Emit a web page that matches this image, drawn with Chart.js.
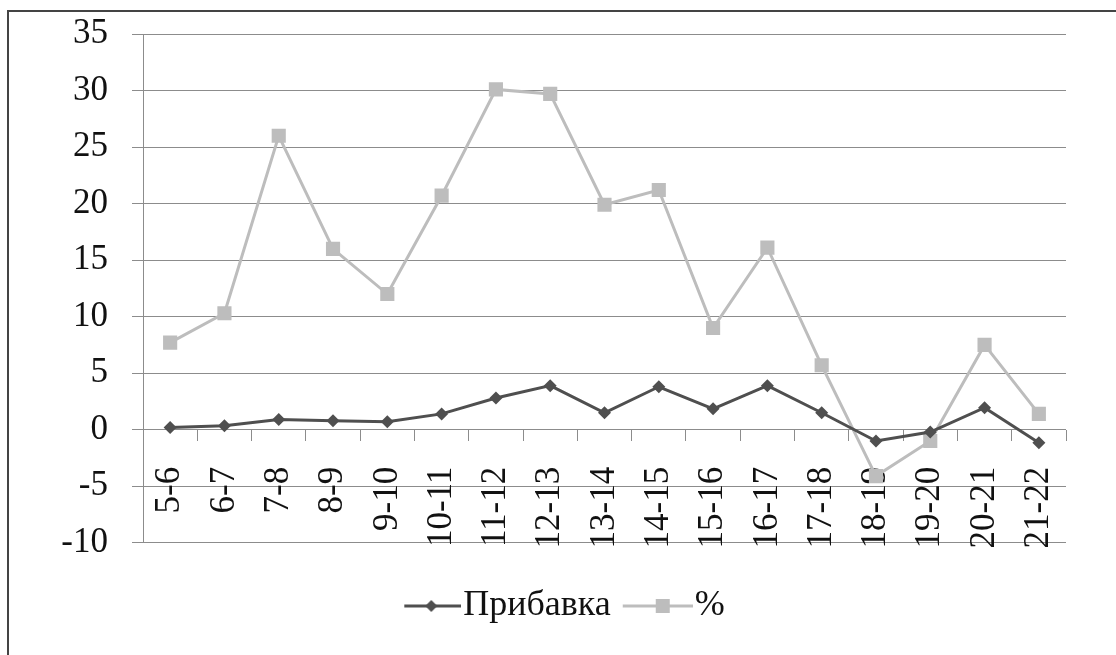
<!DOCTYPE html>
<html>
<head>
<meta charset="utf-8">
<script src="https://cdn.jsdelivr.net/npm/chart.js@4/dist/chart.umd.min.js"></script>
<style>
  body { margin: 0; background: #fff; }
  #marco { position: absolute; left: 7px; top: 10px; width: 1130px; height: 670px; border: 2px solid #444; box-sizing: border-box; }
  #lienzo { position: absolute; left: 0; top: 0; }
</style>
</head>
<body>
<div id="marco"></div>
<canvas id="lienzo" width="1116" height="655"></canvas>
<script>
// datos
const periodos = ['5-6', '6-7', '7-8', '8-9', '9-10', '10-11', '11-12', '12-13', '13-14', '14-15', '15-16', '16-17', '17-18', '18-19', '19-20', '20-21', '21-22'];
const pribavka = [0.2, 0.35, 0.9, 0.8, 0.7, 1.4, 2.8, 3.9, 1.5, 3.8, 1.85, 3.9, 1.5, -1.0, -0.2, 1.95, -1.15];
const porcentaje = [7.7, 10.3, 26.0, 16.0, 12.0, 20.7, 30.1, 29.7, 19.9, 21.2, 9.0, 16.1, 5.7, -4.1, -1.0, 7.5, 1.4];
const ejeY = { min: -10, max: 35, paso: 5 };

const oscuro = '#4f4f4f';
const claro = '#bdbdbd';
const rejilla = '#8c8c8c';
const fuente = 'Liberation Serif';

// iconos de la leyenda: linea con marcador (lienzo ancho para que la linea llegue al texto)
function icono(color, forma, desde) {
  const c = document.createElement('canvas');
  c.width = 86; c.height = 20;
  const ctx = c.getContext('2d');
  ctx.strokeStyle = color;
  ctx.lineWidth = 3;
  ctx.beginPath(); ctx.moveTo(desde, 10); ctx.lineTo(86, 10); ctx.stroke();
  ctx.fillStyle = color;
  ctx.beginPath();
  if (forma === 'rombo') {
    ctx.moveTo(56, 4); ctx.lineTo(62, 10); ctx.lineTo(56, 16); ctx.lineTo(50, 10);
  } else {
    ctx.rect(49, 3, 14, 14);
  }
  ctx.closePath(); ctx.fill();
  return c;
}
const iconos = [icono(oscuro, 'rombo', 29), icono(claro, 'cuadro', 16)];

const data = {
  labels: periodos,
  datasets: [{
    label: 'Прибавка',
    data: pribavka,
    borderColor: oscuro,
    backgroundColor: oscuro,
    borderWidth: 3,
    pointStyle: 'rectRot',
    pointRadius: 6.5,
    pointBorderWidth: 0,
    tension: 0,
    order: 1
  }, {
    label: '%',
    data: porcentaje,
    borderColor: claro,
    backgroundColor: claro,
    borderWidth: 3,
    pointStyle: 'rect',
    pointRadius: 10,
    pointBorderWidth: 0,
    tension: 0,
    order: 2
  }]
};

const config = {
  type: 'line',
  data: data,
  options: {
    responsive: false,
    animation: false,
    layout: { padding: { top: 34, right: 50, bottom: 21, left: 50 } },
    plugins: {
      tooltip: { enabled: false },
      legend: {
        position: 'bottom',
        title: { display: true, text: ' ', font: { size: 1 }, padding: { top: 32, bottom: 0 } },
        labels: {
          color: '#111',
          font: { family: fuente, size: 36 },
          usePointStyle: true,
          pointStyleWidth: 54,
          padding: 12,
          generateLabels: (chart) => chart.data.datasets.map((ds, i) => ({
            text: ds.label,
            pointStyle: iconos[i],
            fontColor: '#111',
            datasetIndex: i,
            lineWidth: 0,
            hidden: false
          }))
        }
      }
    },
    scales: {
      x: {
        position: { y: 0 },
        offset: true,
        border: { display: false },
        grid: { display: true, drawOnChartArea: false, drawTicks: true, tickLength: 11, offset: true, color: rejilla },
        ticks: {
          color: '#111',
          font: { family: fuente, size: 35 },
          minRotation: 90,
          maxRotation: 90,
          autoSkip: false,
          padding: 26
        }
      },
      y: {
        min: ejeY.min,
        max: ejeY.max,
        afterFit: (scale) => {
          scale.width = 93;
          scale.paddingTop = 0;
          scale.paddingBottom = 0;
        },
        border: { display: true, color: rejilla, width: 1 },
        grid: { color: rejilla, lineWidth: 1, tickLength: 11 },
        ticks: {
          stepSize: ejeY.paso,
          color: '#111',
          font: { family: fuente, size: 35 },
          padding: 24
        }
      }
    }
  }
};

const grafico = new Chart(document.getElementById('lienzo'), config);
</script>
</body>
</html>
